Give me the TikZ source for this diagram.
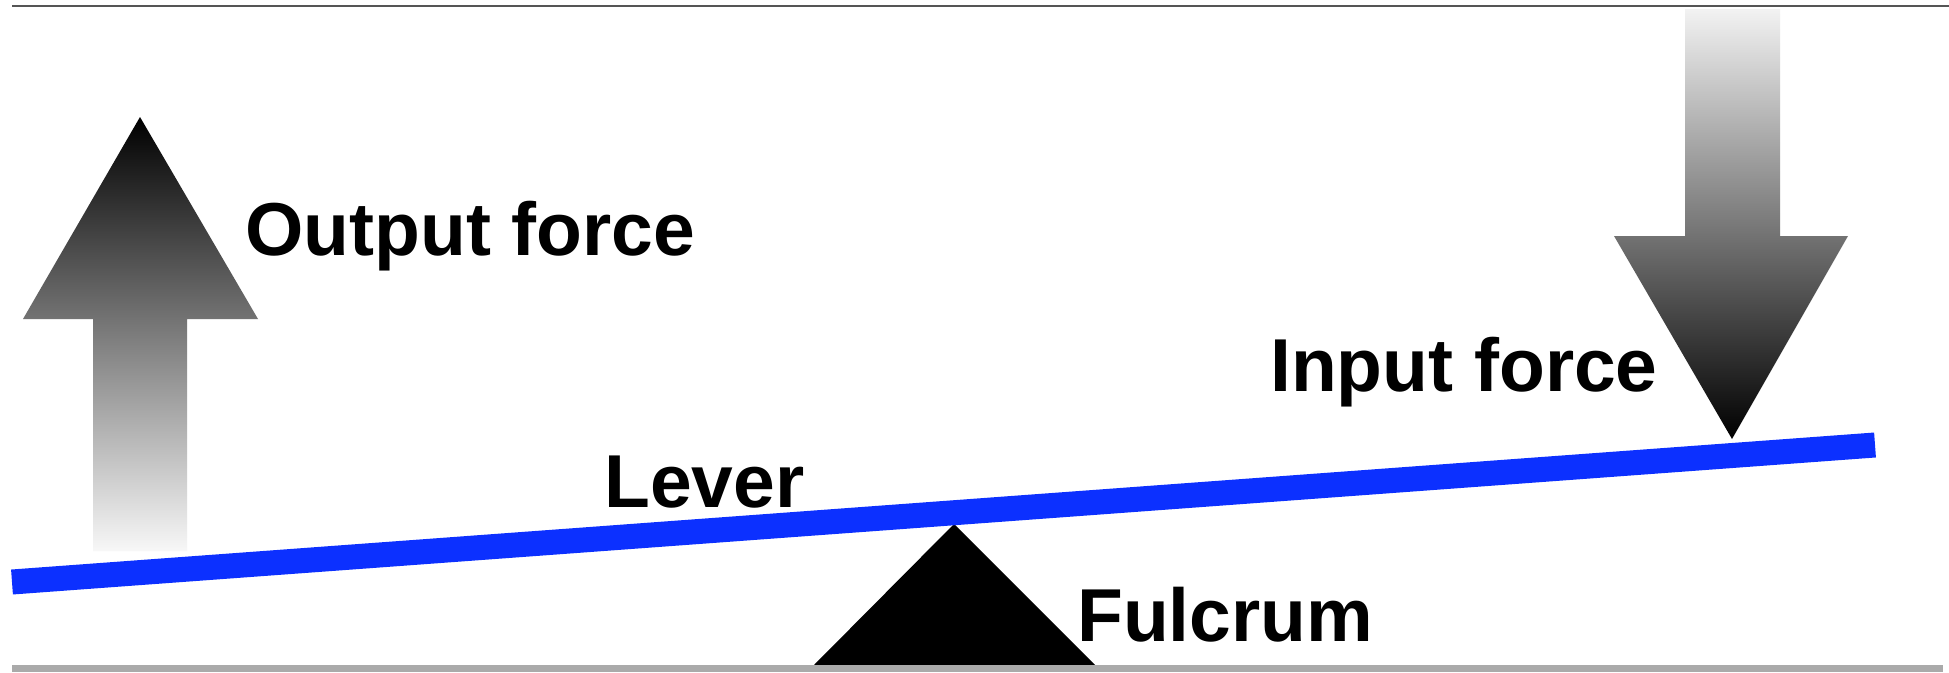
\documentclass[tikz,border=0pt]{standalone}
\usepackage{fontspec}
\setmainfont{Liberation Sans}
\definecolor{leverblue}{RGB}{12,48,255}
\definecolor{topline}{RGB}{85,85,85}
\definecolor{bottomband}{RGB}{170,170,170}
\tikzset{
  label text/.style={anchor=base west, inner sep=0pt, font=\fontsize{75}{90}\selectfont\bfseries},
  up arrow/.style={shade, top color=black, bottom color=white!97!black, draw=none},
  down arrow/.style={shade, top color=white!95!black, bottom color=black, draw=none},
}
\begin{document}
\begin{tikzpicture}[x=1pt,y=-1pt]
\useasboundingbox (0,0) rectangle (1949,672);
\fill[white] (0,0) rectangle (1949,672);
% frame lines
\draw[topline, line width=2] (12,5.5) -- (1949,5.5);
% output force arrow (up)
\path[up arrow] (140,117) -- (258,319) -- (187,319) -- (187,551) -- (93,551) -- (93,319) -- (23,319) -- cycle;
% input force arrow (down)
\path[down arrow] (1685,9) -- (1780,9) -- (1780,236) -- (1848,236) -- (1732,439) -- (1614,236) -- (1685,236) -- cycle;
% fulcrum
\coordinate (apex) at (954,524);
\fill[black] (apex) -- (1097,667) -- (812,667) -- cycle;
% bottom band
\fill[bottomband] (12,665) rectangle (1943,672);
% lever
\coordinate (leverL) at (12,582);
\coordinate (leverR) at (1875,445);
\draw[leverblue, line width=25, line cap=butt] (leverL) -- (leverR);
% labels
\node[label text] (out) at (245,255) {Output force};
\node[label text] (in) at (1270,391) {Input force};
\node[label text] (lev) at (604,507) {Lever};
\node[label text] (ful) at (1077,641) {Fulcrum};
\end{tikzpicture}
\end{document}
